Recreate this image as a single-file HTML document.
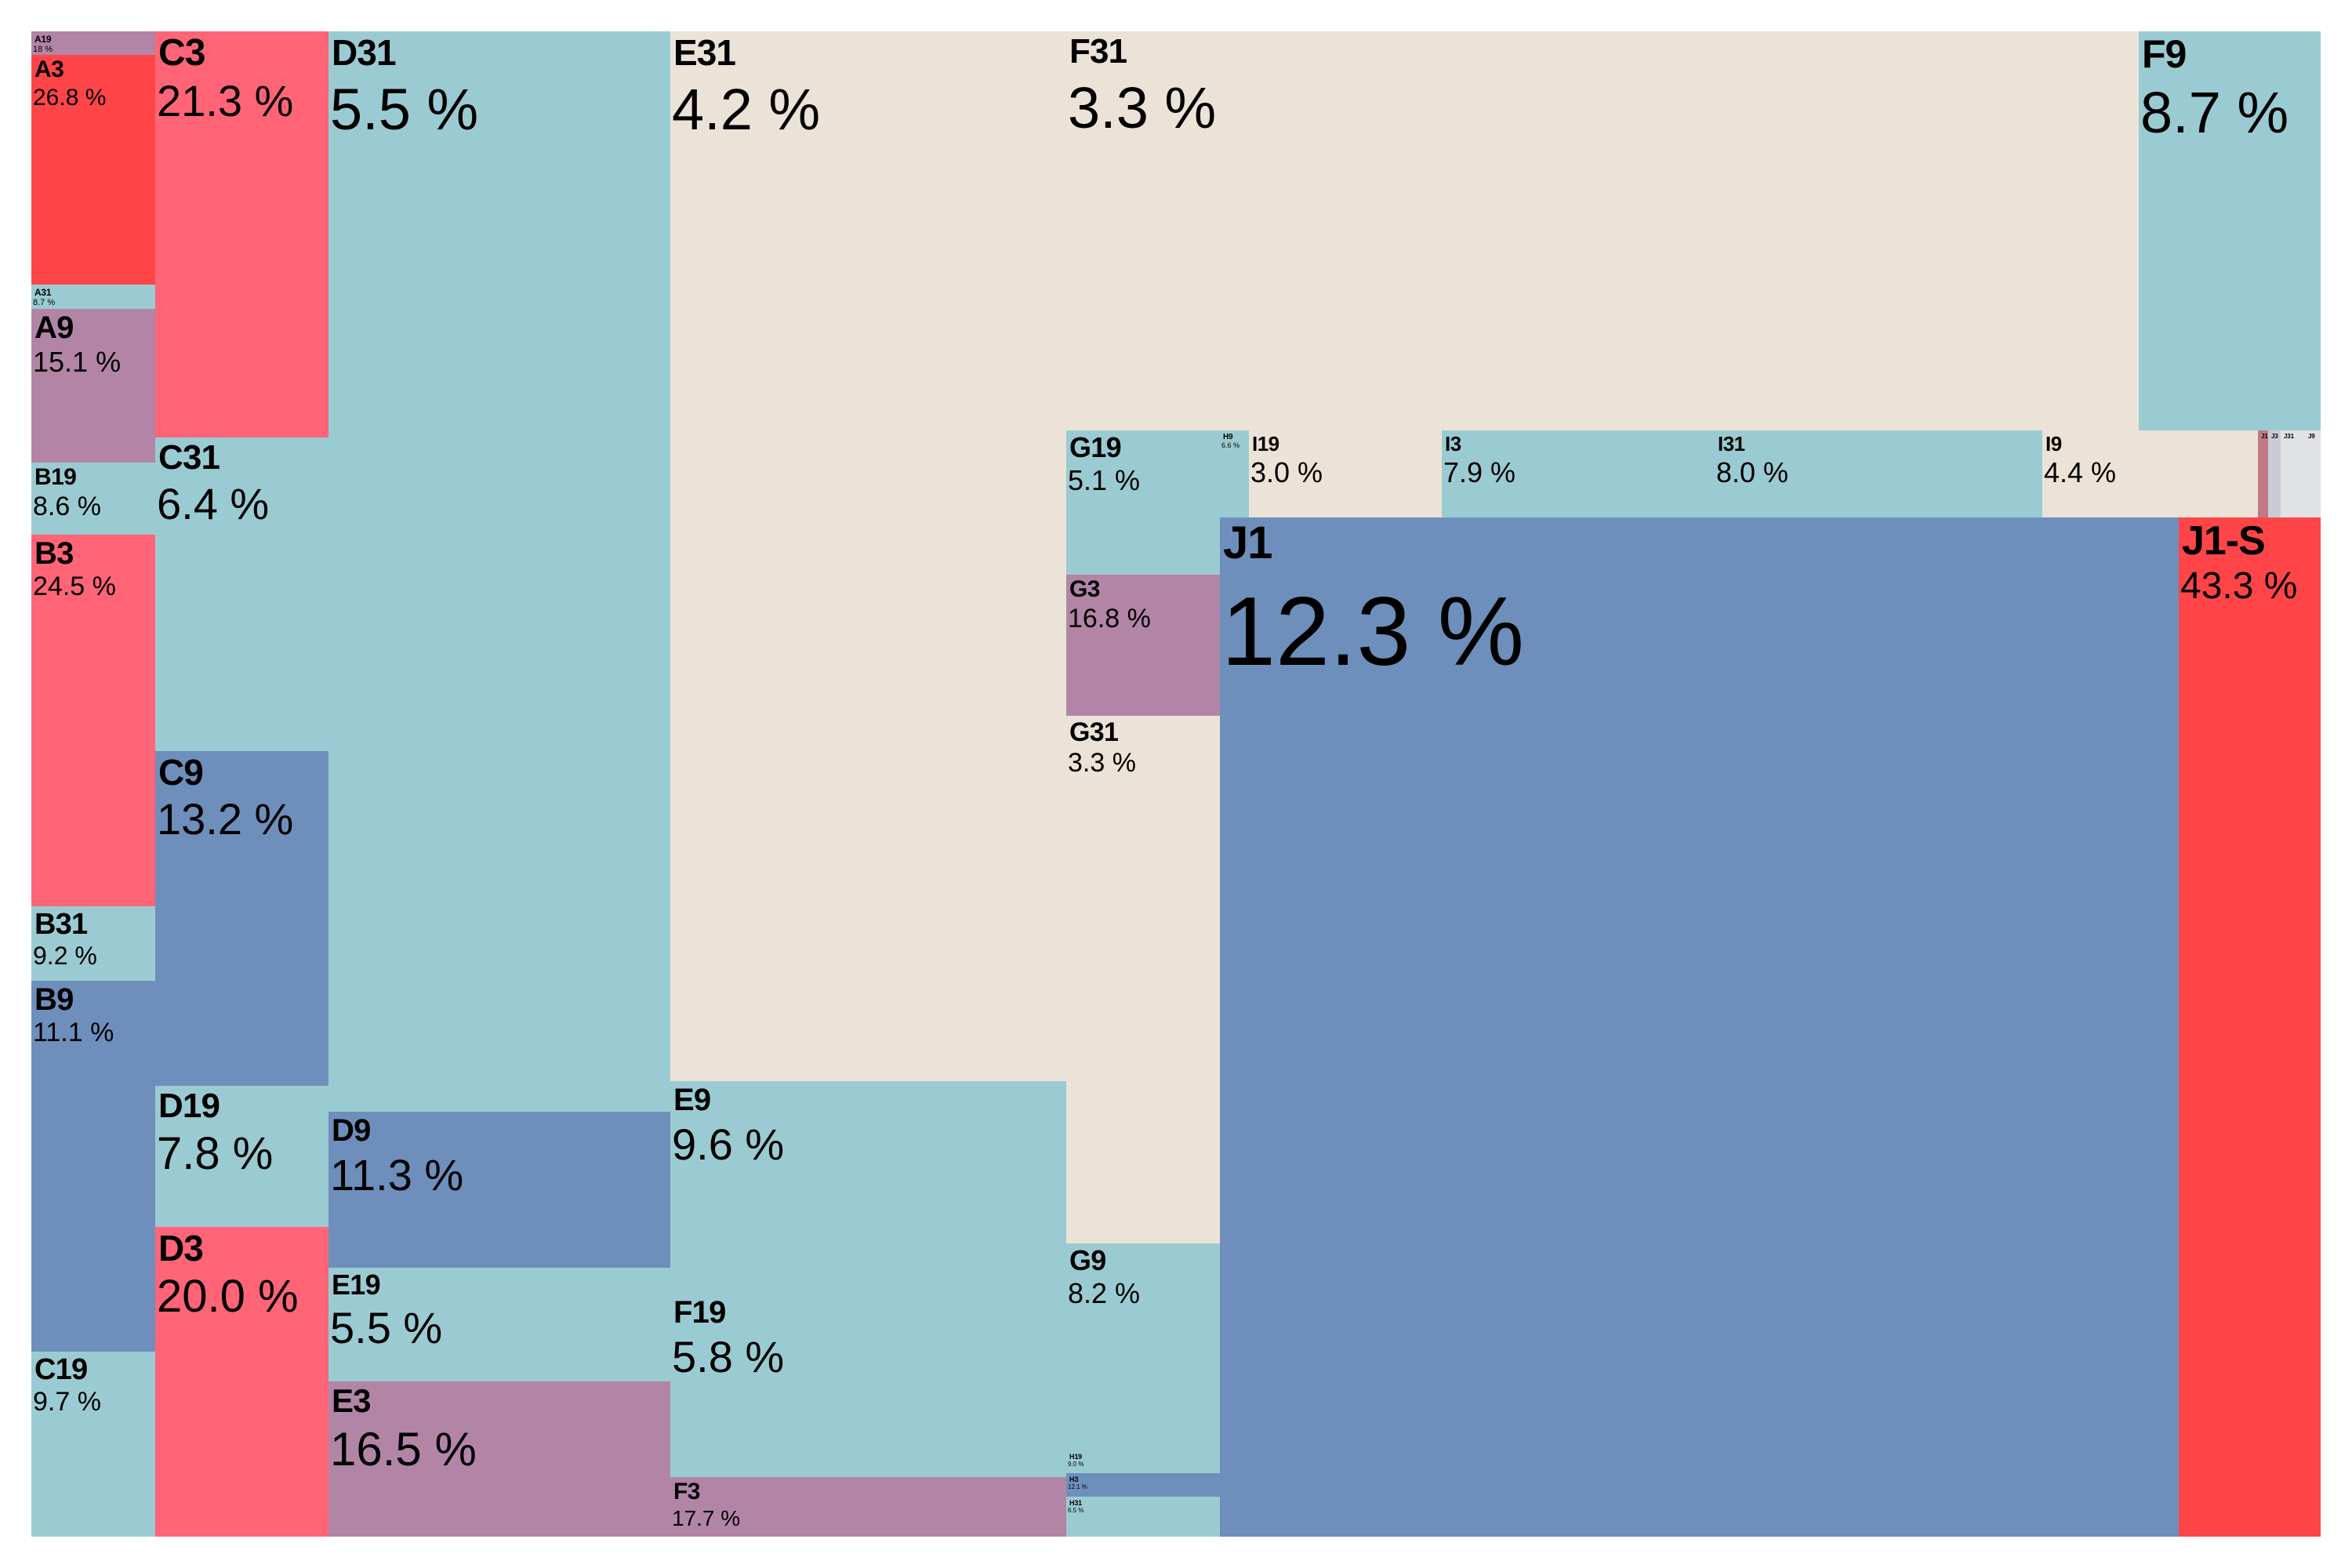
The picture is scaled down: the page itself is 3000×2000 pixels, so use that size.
<!DOCTYPE html>
<html><head><meta charset="utf-8"><style>
body{margin:0;width:3000px;height:2000px;background:#fff;position:relative;overflow:hidden;font-family:"Liberation Sans Narrow","Liberation Sans",sans-serif;color:#000}
.b{position:absolute;overflow:visible}
.n{font-weight:bold;line-height:1;white-space:nowrap;margin-left:4px;margin-top:4px;letter-spacing:-0.02em}
.v{line-height:1.05;white-space:nowrap;margin-left:2px;font-weight:normal}
</style></head><body>
<script>
const T='#9BCBD2',BG='#EBE3D7',PK='#FF6477',R='#FF4547',P='#B285A7',BL='#6E8FBB';
// [name,val,x1,y1,x2,y2,color,ns,vs]
const d=[
['A19','18 %',40,40,198,70,P,12,11],
['A3','26.8 %',40,70,198,363,R,30,30],
['A31','8.7 %',40,363,198,394,T,12,11],
['A9','15.1 %',40,394,198,590,P,40,36],
['B19','8.6 %',40,590,198,682,T,30,34],
['B3','24.5 %',40,682,198,1156,PK,40,34],
['B31','9.2 %',40,1156,198,1251,T,38,32],
['B9','11.1 %',40,1251,198,1724,BL,40,34],
['C19','9.7 %',40,1724,198,1960,T,38,34],
['C3','21.3 %',198,40,419,558,PK,48,56],
['C31','6.4 %',198,558,419,958,T,44,56],
['C9','13.2 %',198,958,419,1385,BL,46,56],
['D19','7.8 %',198,1385,419,1565,T,44,58],
['D3','20.0 %',198,1565,419,1960,PK,46,58],
['D31','5.5 %',419,40,855,1418,T,46,74],
['D9','11.3 %',419,1418,855,1617,BL,40,56],
['E19','5.5 %',419,1617,855,1762,T,36,56],
['E3','16.5 %',419,1762,855,1960,P,42,60],
['E31','4.2 %',855,40,1360,1379,BG,46,74],
['E9','9.6 %',855,1379,1360,1650,T,40,56],
['F19','5.8 %',855,1650,1360,1884,T,40,56],
['F3','17.7 %',855,1884,1360,1960,P,30,28],
['F31','3.3 %',1360,40,2728,549,BG,44,74],
['F9','8.7 %',2728,40,2960,549,T,50,74],
['G19','5.1 %',1360,549,1556,733,T,36,36],
['H9','6.6 %',1556,549,1593,660,T,10,9],
['G3','16.8 %',1360,733,1556,913,P,30,34],
['G31','3.3 %',1360,913,1556,1586,BG,34,34],
['G9','8.2 %',1360,1586,1556,1850,T,36,36],
['H19','9.0 %',1360,1850,1556,1879,T,9,8],
['H3','12.1 %',1360,1879,1556,1909,BL,9,8],
['H31','6.5 %',1360,1909,1556,1960,T,9,8],
['I19','3.0 %',1593,549,1839,660,BG,26,36],
['I3','7.9 %',1839,549,2187,660,T,26,36],
['I31','8.0 %',2187,549,2605,660,T,26,36],
['I9','4.4 %',2605,549,2880,660,BG,26,36],
['J16','',2880,549,2893,660,'#C07A84',8,8],
['J3','',2893,549,2909,660,'#C9CCD8',8,8],
['J31','',2909,549,2940,660,'#E1E2E4',8,8],
['J9','',2940,549,2960,660,'#E1E2E4',8,8],
['J1','12.3 %',1556,660,2779,1960,BL,58,124],
['J1-S','43.3 %',2779,660,2960,1960,R,52,48]
];
let h='';
for(const [n,v,x1,y1,x2,y2,c,ns,vs] of d){
h+=`<div class="b" style="left:${x1}px;top:${y1}px;width:${x2-x1}px;height:${y2-y1}px;background:${c}"><div class="n" style="font-size:${ns}px">${n}</div>${v?`<div class="v" style="font-size:${vs}px;margin-top:${Math.round(vs*0.15)}px">${v}</div>`:''}</div>`;
}
document.write(h);
</script>
</body></html>
